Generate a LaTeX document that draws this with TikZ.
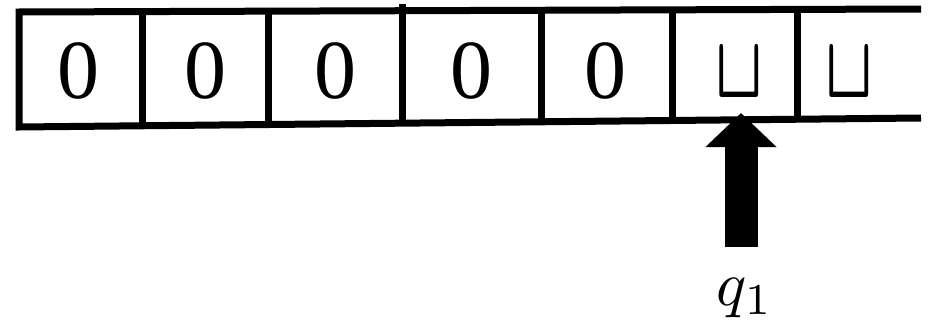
\documentclass[tikz,border=0pt]{standalone}
\usepackage{fontspec}
\setmainfont{Liberation Serif}
\usepackage{graphicx}
\usetikzlibrary{arrows.meta}

\begin{document}
\begin{tikzpicture}[x=1pt,y=-1pt,
  tape/.style={line width=7pt},
  sym/.style={font=\fontsize{84}{84}\selectfont,anchor=base,inner sep=0pt},
  blank/.style={font=\boldmath,anchor=base,inner sep=0pt},
  headarrow/.style={line width=33pt,-{Triangle[length=34pt,width=69pt]}}]
  \useasboundingbox (0,0) rectangle (932,324);

  % Tape
  \draw[tape] (921,9) -- (19,12) -- (19,127) -- (921,118);
  \draw[tape] (142,12) -- (142,127);
  \draw[tape] (268,12) -- (268,126);
  \draw[tape] (402,4) -- (402,125);
  \draw[tape] (541,10) -- (541,124);
  \draw[tape] (672,10) -- (672,122);
  \draw[tape] (797,9) -- (797,121);

  % Tape symbols
  \node[sym] (c1) at (78,98) {0};
  \node[sym] (c2) at (205,98) {0};
  \node[sym] (c3) at (335,98) {0};
  \node[sym] (c4) at (471,98) {0};
  \node[sym] (c5) at (605,98) {0};
  \node[blank] (c6) at (739,97) {\scalebox{6.2}[8.8]{$\sqcup$}};
  \node[blank] (c7) at (849,97) {\scalebox{6.2}[8.8]{$\sqcup$}};

  % Head
  \node[anchor=base,inner sep=0pt] (q) at (745,305) {\scalebox{6.3}{$q_1$}};
  \coordinate (tail) at (741,247);
  \coordinate (tip) at (741,113);
  \draw[headarrow] (tail) -- (tip);
\end{tikzpicture}
\end{document}
